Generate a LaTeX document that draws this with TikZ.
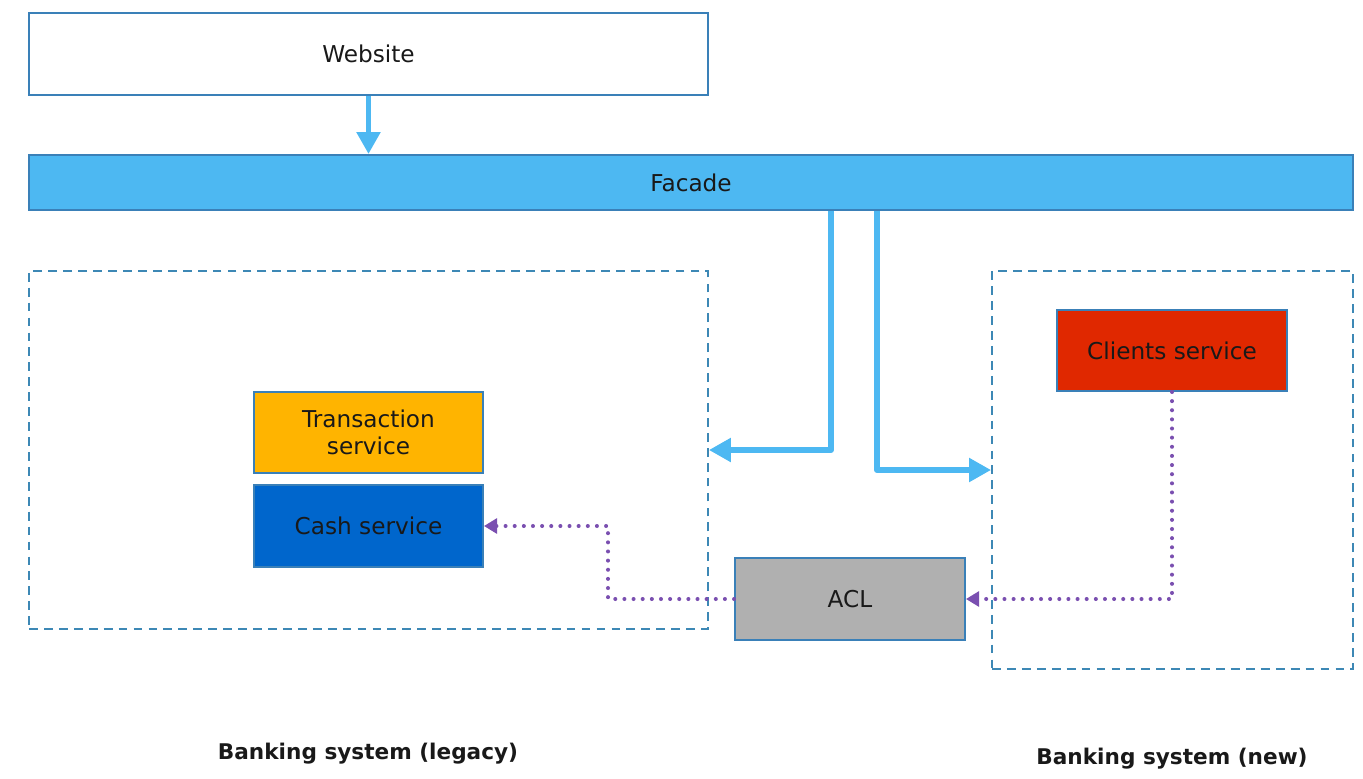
\documentclass[tikz,border=0pt]{standalone}
\usepackage{fontspec}
\setmainfont{DejaVu Sans}
\usetikzlibrary{arrows.meta}
\definecolor{boxline}{HTML}{3A80B8}
\definecolor{facadeblue}{HTML}{4DB8F2}
\definecolor{dashblue}{HTML}{3D88B5}
\definecolor{txorange}{HTML}{FFB400}
\definecolor{cashblue}{HTML}{0066CC}
\definecolor{clientred}{HTML}{E02800}
\definecolor{aclgrey}{HTML}{B0B0B0}
\definecolor{flowpurple}{HTML}{7A4FB0}

\begin{document}
\begin{tikzpicture}[x=0.02cm, y=-0.02cm,
  svcbox/.style={draw=boxline, line width=1.1pt, rectangle, align=center, font=\fontsize{13.2}{15.5}\selectfont, text=black!90},
  sysbox/.style={draw=dashblue, line width=1.1pt, dash pattern=on 5pt off 3.5pt, rectangle},
  bigarrow/.style={facadeblue, line width=3.4pt, line join=round, -{Triangle[length=12.5pt,width=13pt]}},
  dotarrow/.style={flowpurple, line width=2.3pt, dash pattern=on 0pt off 5.2pt, line cap=round, line join=round, -{Triangle[length=7.5pt,width=8.5pt]}},
  syslabel/.style={font=\bfseries\fontsize{12.3}{14}\selectfont, text=black!90}]
\useasboundingbox (0,0) rectangle (1363,778);
% top layer
\node[svcbox, fill=white, minimum width=13.58cm, minimum height=1.64cm] (website) at (368.5,54) {Website};
\node[svcbox, fill=facadeblue, minimum width=26.48cm, minimum height=1.1cm] (facade) at (691,182.5) {Facade};
% the two systems
\node[sysbox, minimum width=13.58cm, minimum height=7.16cm] (legacy) at (368.5,450) {};
\node[sysbox, minimum width=7.22cm, minimum height=7.96cm] (newsys) at (1172.5,470) {};
\node[svcbox, fill=txorange, minimum width=4.58cm, minimum height=1.62cm] (transaction) at (368.5,432.5) {Transaction\\service};
\node[svcbox, fill=cashblue, minimum width=4.58cm, minimum height=1.64cm] (cash) at (368.5,526) {Cash service};
\node[svcbox, fill=clientred, minimum width=4.6cm, minimum height=1.62cm] (clients) at (1172,350.5) {Clients service};
\node[svcbox, fill=aclgrey, minimum width=4.6cm, minimum height=1.64cm] (acl) at (850,599) {ACL};
\node[syslabel] (legacylabel) at (368,754) {Banking system (legacy)};
\node[syslabel] (newlabel) at (1172,759) {Banking system (new)};
% connectors
\draw[bigarrow] (website.south) -- (website.south |- facade.north);
\draw[bigarrow] (facade.south -| 831,0) |- (legacy.east);
\draw[bigarrow] (facade.south -| 877,0) |- (newsys.west);
\coordinate (bend) at (608,599);
\draw[dotarrow] (clients.south) |- (acl.east);
\draw[dotarrow] (acl.west) -- (bend) |- (cash.east);
\end{tikzpicture}
\end{document}
